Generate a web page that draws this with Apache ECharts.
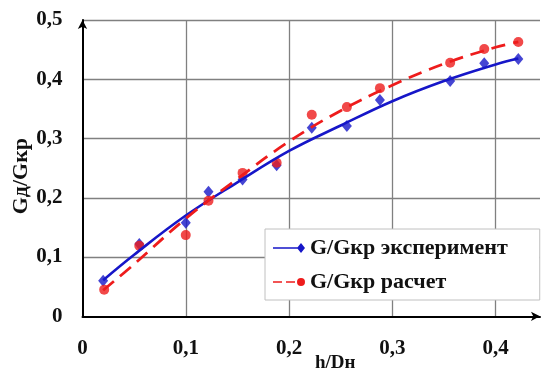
<!DOCTYPE html>
<html>
<head>
<meta charset="utf-8">
<script src="https://cdn.jsdelivr.net/npm/echarts@6/dist/echarts.min.js"></script>
<style>html,body{margin:0;padding:0;background:#fff;}#c{width:544px;height:374px;}</style>
</head>
<body>
<div id="c"></div>
<script>
// Measured points
const hExp = [0.020, 0.055, 0.100, 0.122, 0.155, 0.188, 0.222, 0.256, 0.288, 0.356, 0.389, 0.422];
const gExp = [0.060, 0.122, 0.158, 0.210, 0.231, 0.255, 0.318, 0.321, 0.365, 0.397, 0.427, 0.434];
const hCalc = [0.021, 0.055, 0.100, 0.122, 0.155, 0.188, 0.222, 0.256, 0.288, 0.356, 0.389, 0.422];
const gCalc = [0.045, 0.119, 0.137, 0.195, 0.242, 0.259, 0.340, 0.353, 0.385, 0.428, 0.451, 0.463];
// Trend curves
const hTrend = [0.020, 0.050, 0.100, 0.150, 0.200, 0.250, 0.300, 0.350, 0.400, 0.422];
const gTrendExp = [0.061, 0.104, 0.170, 0.226, 0.279, 0.322, 0.363, 0.397, 0.425, 0.435];
const gTrendCalc = [0.044, 0.088, 0.165, 0.232, 0.295, 0.347, 0.390, 0.426, 0.454, 0.463];
const xTicks = ['0', '0,1', '0,2', '0,3', '0,4'];
const yTicks = ['0', '0,1', '0,2', '0,3', '0,4', '0,5'];
const names = ['G/Gкр эксперимент', 'G/Gкр расчет'];

const zip = (a, b) => a.map((v, i) => [v, b[i]]);
const BLUE = '#1616c8', RED = '#ee1c1c';
const FONT = "'Liberation Serif','Times New Roman',serif";

const chart = echarts.init(document.getElementById('c'), null, {renderer: 'canvas'});
chart.setOption({
  animation: false,
  backgroundColor: '#fff',
  grid: {left: 82.5, right: 4, top: 20, bottom: 57.7, outerBoundsMode: 'none', containLabel: false},
  xAxis: {
    type: 'value', min: 0, max: 0.443, interval: 0.1,
    name: 'h/Dн', nameLocation: 'middle', nameGap: 37, nameMoveOverlap: false,
    nameTextStyle: {fontFamily: FONT, fontWeight: 'bold', fontSize: 19, color: '#111', padding: [0, 0, 0, 48]},
    axisLine: {lineStyle: {color: '#000', width: 2}, symbol: ['none', 'arrow'], symbolSize: [7, 9]},
    axisTick: {show: false},
    axisLabel: {
      margin: 22, fontFamily: FONT, fontWeight: 'bold', fontSize: 21, color: '#111', showMaxLabel: false,
      formatter: v => xTicks[Math.round(v * 10)] ?? ''
    },
    splitLine: {show: true, showMinLine: false, showMaxLine: false, lineStyle: {color: '#808080', width: 1.3}}
  },
  yAxis: {
    type: 'value', min: 0, max: 0.5, interval: 0.1,
    name: 'Gд/Gкр', nameLocation: 'middle', nameGap: 50, nameRotate: 90, nameMoveOverlap: false,
    nameTextStyle: {fontFamily: FONT, fontWeight: 'bold', fontSize: 22, color: '#111', padding: [0, 16, 0, 0]},
    axisLine: {lineStyle: {color: '#000', width: 2}, symbol: ['none', 'arrow'], symbolSize: [7, 9]},
    axisTick: {show: false},
    axisLabel: {
      margin: 20, fontFamily: FONT, fontWeight: 'bold', fontSize: 21, color: '#111',
      formatter: v => yTicks[Math.round(v * 10)] ?? ''
    },
    splitLine: {show: true, showMinLine: false, lineStyle: {color: '#808080', width: 1.3}}
  },
  legend: {
    data: [
      {name: names[0], icon: 'path://M0,4.2 L27,4.2 L27,5.8 L0,5.8 Z M28,0 L32,5 L28,10 L24,5 Z'},
      {name: names[1], icon: 'path://M0,4.2 L9,4.2 L9,5.8 L0,5.8 Z M13,4.2 L22,4.2 L22,5.8 L13,5.8 Z M24,5 A4,4 0 1,0 32,5 A4,4 0 1,0 24,5 Z M0,0 L0.01,0 L0.01,0.01 Z M0,10 L0.01,10 L0.01,9.99 Z'}
    ],
    orient: 'vertical',
    left: 265, top: 229,
    padding: [7, 32, 6, 8],
    itemWidth: 32, itemHeight: 10, itemGap: 10,
    backgroundColor: '#fff', borderColor: '#c0c0c0', borderWidth: 1, borderRadius: 0,
    textStyle: {fontFamily: FONT, fontWeight: 'bold', fontSize: 22, color: '#111', lineHeight: 24}
  },
  series: [
    {
      name: names[0], type: 'line', smooth: 0.4, showSymbol: false, symbol: 'diamond',
      data: zip(hTrend, gTrendExp), z: 3,
      lineStyle: {color: BLUE, width: 2.6}, itemStyle: {color: BLUE}
    },
    {
      name: names[1], type: 'line', smooth: 0.4, showSymbol: false, symbol: 'circle',
      data: zip(hTrend, gTrendCalc), z: 3,
      lineStyle: {color: RED, width: 2.8, type: [14, 8]}, itemStyle: {color: RED}
    },
    {
      name: 'exp-points', type: 'scatter', symbol: 'diamond', symbolSize: [10, 12],
      data: zip(hExp, gExp), itemStyle: {color: BLUE}, z: 2
    },
    {
      name: 'calc-points', type: 'scatter', symbol: 'circle', symbolSize: 10,
      data: zip(hCalc, gCalc), itemStyle: {color: RED}, z: 2
    }
  ]
});
</script>
</body>
</html>
